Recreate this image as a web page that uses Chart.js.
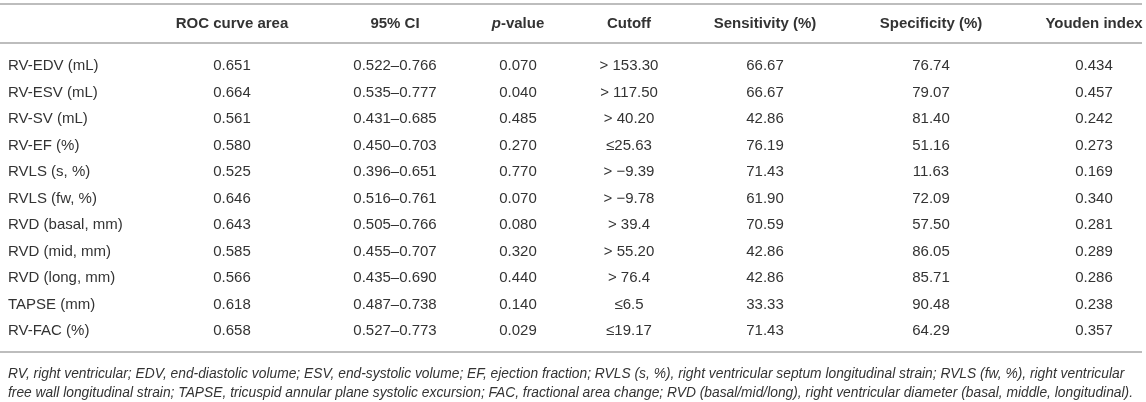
<!DOCTYPE html>
<html>
<head>
<meta charset="utf-8">
<script src="https://cdn.jsdelivr.net/npm/chart.js@4.4.1/dist/chart.umd.min.js"></script>
<style>
  html, body { margin: 0; padding: 0; background: #fff; }
  #wrap { width: 1146px; height: 402px; position: relative; }
</style>
</head>
<body>
<div id="wrap"><canvas id="rocTable"></canvas></div>
<script>
// Table data
const headers = ['', 'ROC curve area', '95% CI', 'p-value', 'Cutoff', 'Sensitivity (%)', 'Specificity (%)', 'Youden index'];
const parameters = ['RV-EDV (mL)', 'RV-ESV (mL)', 'RV-SV (mL)', 'RV-EF (%)', 'RVLS (s, %)', 'RVLS (fw, %)',
  'RVD (basal, mm)', 'RVD (mid, mm)', 'RVD (long, mm)', 'TAPSE (mm)', 'RV-FAC (%)'];
const rocArea = [0.651, 0.664, 0.561, 0.580, 0.525, 0.646, 0.643, 0.585, 0.566, 0.618, 0.658];
const ciLower = [0.522, 0.535, 0.431, 0.450, 0.396, 0.516, 0.505, 0.455, 0.435, 0.487, 0.527];
const ciUpper = [0.766, 0.777, 0.685, 0.703, 0.651, 0.761, 0.766, 0.707, 0.690, 0.738, 0.773];
const pValues = [0.070, 0.040, 0.485, 0.270, 0.770, 0.070, 0.080, 0.320, 0.440, 0.140, 0.029];
const cutoffs = ['> 153.30', '> 117.50', '> 40.20', '\u226425.63', '> \u22129.39', '> \u22129.78',
  '> 39.4', '> 55.20', '> 76.4', '\u22646.5', '\u226419.17'];
const sensitivity = [66.67, 66.67, 42.86, 76.19, 71.43, 61.90, 70.59, 42.86, 42.86, 33.33, 71.43];
const specificity = [76.74, 79.07, 81.40, 51.16, 11.63, 72.09, 57.50, 86.05, 85.71, 90.48, 64.29];
const youden = [0.434, 0.457, 0.242, 0.273, 0.169, 0.340, 0.281, 0.289, 0.286, 0.238, 0.357];
const footnotes = [
  'RV, right ventricular; EDV, end-diastolic volume; ESV, end-systolic volume; EF, ejection fraction; RVLS (s, %), right ventricular septum longitudinal strain; RVLS (fw, %), right ventricular',
  'free wall longitudinal strain; TAPSE, tricuspid annular plane systolic excursion; FAC, fractional area change; RVD (basal/mid/long), right ventricular diameter (basal, middle, longitudinal).'
];

// Layout (table units: x in px of the table width, y in row steps)
const colX = [8, 232, 395, 518, 629, 765, 931, 1094];
const HEADER_Y = -1.6;
const RULES_Y = [-2.34, -0.87, 10.8];
const FOOT_Y = [11.64, 12.36];
const FONT = '"Liberation Sans", Arial, Helvetica, sans-serif';
const TEXT = '#333333';

// One text string per cell, column by column
const columns = [
  parameters,
  rocArea.map(v => v.toFixed(3)),
  ciLower.map((v, i) => v.toFixed(3) + '\u2013' + ciUpper[i].toFixed(3)),
  pValues.map(v => v.toFixed(3)),
  cutoffs,
  sensitivity.map(v => v.toFixed(2)),
  specificity.map(v => v.toFixed(2)),
  youden.map(v => v.toFixed(3))
];

// Each column is a dataset; header row + body rows are its points
const datasets = columns.map((col, c) => ({
  label: headers[c] || 'Parameter',
  data: [{ x: colX[c], y: HEADER_Y }].concat(col.map((_, i) => ({ x: colX[c], y: i }))),
  pointRadius: 0,
  pointHoverRadius: 0
}));

const tablePlugin = {
  id: 'tableText',
  afterDatasetsDraw(chart) {
    const ctx = chart.ctx;
    const xs = chart.scales.x;
    const ys = chart.scales.y;
    ctx.save();

    // Rules
    ctx.strokeStyle = '#bdbdbd';
    ctx.lineWidth = 2;
    RULES_Y.forEach(v => {
      const y = Math.round(ys.getPixelForValue(v));
      ctx.beginPath();
      ctx.moveTo(xs.getPixelForValue(0), y);
      ctx.lineTo(xs.getPixelForValue(1142), y);
      ctx.stroke();
    });

    ctx.fillStyle = TEXT;
    ctx.textBaseline = 'middle';

    chart.data.datasets.forEach((ds, c) => {
      const meta = chart.getDatasetMeta(c);
      meta.data.forEach((pt, i) => {
        const align = c === 0 ? 'left' : 'center';
        if (i === 0) {
          // Header cell
          const h = headers[c];
          if (!h) return;
          if (h === 'p-value') {
            ctx.font = 'italic bold 15px ' + FONT;
            const wp = ctx.measureText('p').width;
            ctx.font = 'bold 15px ' + FONT;
            const wr = ctx.measureText('-value').width;
            const x0 = pt.x - (wp + wr) / 2;
            ctx.textAlign = 'left';
            ctx.font = 'italic bold 15px ' + FONT;
            ctx.fillText('p', x0, pt.y);
            ctx.font = 'bold 15px ' + FONT;
            ctx.fillText('-value', x0 + wp, pt.y);
          } else {
            ctx.font = 'bold 15px ' + FONT;
            ctx.textAlign = align;
            ctx.fillText(h, pt.x, pt.y);
          }
          return;
        }
        ctx.font = '15px ' + FONT;
        ctx.textAlign = align;
        ctx.fillText(columns[c][i - 1], pt.x, pt.y);
      });
    });

    // Footnote
    ctx.font = 'italic 13.8px ' + FONT;
    ctx.textAlign = 'left';
    footnotes.forEach((line, k) => {
      ctx.fillText(line, xs.getPixelForValue(8), ys.getPixelForValue(FOOT_Y[k]));
    });
    ctx.restore();
  }
};

new Chart(document.getElementById('rocTable'), {
  type: 'scatter',
  data: { datasets: datasets },
  options: {
    responsive: true,
    maintainAspectRatio: false,
    animation: false,
    layout: { padding: 0 },
    events: [],
    scales: {
      x: { type: 'linear', min: 0, max: 1146, display: false },
      y: { type: 'linear', reverse: true, min: -2.49, max: 12.68, display: false }
    },
    plugins: {
      legend: { display: false },
      tooltip: { enabled: false }
    }
  },
  plugins: [tablePlugin]
});
</script>
</body>
</html>
